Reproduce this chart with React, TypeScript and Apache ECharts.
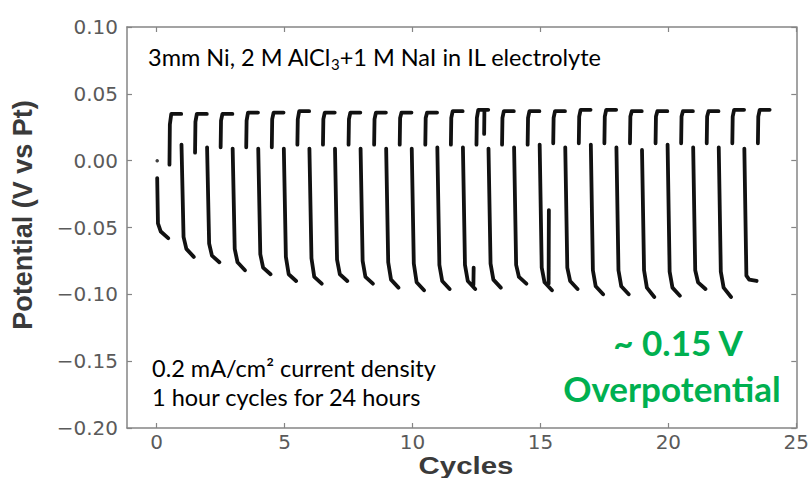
import React, { useEffect, useRef } from "react";
import * as echarts from "echarts";

// Cycle index (each cycle = 1 hour: plating half then stripping half)
const cycleIndex = [0, 1, 2, 3, 4, 5, 6, 7, 8, 9, 10, 11, 12, 13, 14, 15, 16, 17, 18, 19, 20, 21, 22, 23];
// Negative (plating) half-cycle readings, V vs Pt
const negTop = [-0.013, 0.012, 0.010, 0.009, 0.009, 0.009, 0.009, 0.009, 0.009, 0.009, 0.009, 0.010, 0.010, 0.009, 0.010, 0.012, 0.010, 0.012, 0.010, 0.008, 0.012, 0.010, 0.010, 0.009];
const negKnee = [-0.047, -0.057, -0.062, -0.066, -0.070, -0.072, -0.073, -0.074, -0.075, -0.076, -0.077, -0.078, -0.078, -0.077, -0.078, -0.080, -0.080, -0.082, -0.082, -0.082, -0.083, -0.082, -0.083, -0.086];
const negMid = [-0.053, -0.066, -0.071, -0.076, -0.080, -0.085, -0.087, -0.085, -0.087, -0.089, -0.091, -0.090, -0.090, -0.089, -0.087, -0.091, -0.090, -0.094, -0.094, -0.095, -0.095, -0.091, -0.095, -0.089];
const negBottom = [-0.058, -0.072, -0.076, -0.082, -0.085, -0.090, -0.092, -0.090, -0.092, -0.095, -0.097, -0.096, -0.096, -0.095, -0.092, -0.097, -0.096, -0.100, -0.100, -0.102, -0.101, -0.096, -0.102, -0.090];
// Positive (stripping) half-cycle readings
const posStart = [-0.003, 0.006, 0.010, 0.010, 0.010, 0.012, 0.012, 0.012, 0.012, 0.012, 0.012, 0.012, 0.012, 0.012, 0.012, 0.013, 0.013, 0.013, 0.013, 0.013, 0.013, 0.013, 0.013, 0.013];
const posRise = [0.027, 0.029, 0.030, 0.030, 0.031, 0.031, 0.031, 0.031, 0.031, 0.032, 0.032, 0.032, 0.032, 0.032, 0.032, 0.032, 0.033, 0.033, 0.033, 0.033, 0.033, 0.033, 0.033, 0.033];
const posTop = [0.035, 0.035, 0.035, 0.036, 0.036, 0.037, 0.036, 0.036, 0.036, 0.036, 0.036, 0.037, 0.038, 0.037, 0.037, 0.037, 0.038, 0.038, 0.037, 0.037, 0.037, 0.037, 0.038, 0.038];
// Isolated glitches
const spikeX = [12.38, 15.32, 12.8];
const spikeTop = [-0.080, -0.037, 0.037];
const spikeBase = [-0.093, -0.092, 0.020];
// First isolated reading
const startPoint = [[0.02, 0.0]];

const xTicks = [0, 5, 10, 15, 20, 25];

function buildData() {
  const data: any[] = [];
  cycleIndex.forEach((k, i) => {
    const x0 = i === 0 ? k + 0.02 : k - 0.03;
    data.push([x0, negTop[i]]);
    data.push([k + 0.05, negKnee[i]]);
    data.push([k + 0.16, negMid[i]]);
    data.push([k + 0.45, negBottom[i]]);
    data.push([k + 0.47, "-"]);
    data.push([k + 0.5, posStart[i]]);
    data.push([k + 0.515, posRise[i]]);
    data.push([k + 0.57, posTop[i]]);
    data.push([k + 0.96, posTop[i]]);
    data.push([k + 0.965, "-"]);
  });
  spikeX.forEach((x, i) => {
    data.push([x, spikeBase[i]]);
    data.push([x + 0.01, spikeTop[i]]);
    data.push([x + 0.02, "-"]);
  });
  return data;
}

const AXIS_GRAY = "#858585";
const LABEL_GRAY = "#5a5a5a";

export default function App() {
  const ref = useRef<HTMLDivElement>(null);
  useEffect(() => {
    if (!ref.current) return;
    const chart = echarts.init(ref.current, null, { renderer: "svg" });
    const xBase = {
      type: "value",
      min: -1.16,
      max: 25,
      splitLine: { show: false },
      axisLine: { show: true, onZero: false, lineStyle: { color: AXIS_GRAY, width: 1.5 } },
      axisTick: { show: true, inside: true, length: 5, customValues: xTicks, lineStyle: { color: AXIS_GRAY, width: 1.2 } },
    };
    const yBase = {
      type: "value",
      min: -0.2,
      max: 0.1,
      interval: 0.05,
      splitLine: { show: false },
      axisLine: { show: true, onZero: false, lineStyle: { color: AXIS_GRAY, width: 1.5 } },
      axisTick: { show: true, inside: true, length: 5, lineStyle: { color: AXIS_GRAY, width: 1.2 } },
    };
    chart.setOption({
      animation: false,
      backgroundColor: "#ffffff",
      grid: { left: 127, right: 10, top: 27, bottom: 50, show: false },
      xAxis: [
        {
          ...xBase,
          position: "bottom",
          axisLabel: { customValues: xTicks, color: LABEL_GRAY, fontSize: 20, fontFamily: "DejaVu Sans", margin: 4 },
        },
        { ...xBase, position: "top", axisLabel: { show: false } },
      ],
      yAxis: [
        {
          ...yBase,
          position: "left",
          axisLabel: {
            color: LABEL_GRAY,
            fontSize: 20,
            fontFamily: "DejaVu Sans",
            margin: 9,
            formatter: (v: number) => (Math.abs(v) < 1e-9 ? "0.00" : (v < 0 ? "\u2212" : "") + Math.abs(v).toFixed(2)),
          },
        },
        { ...yBase, position: "right", axisLabel: { show: false } },
      ],
      series: [
        {
          type: "line",
          data: buildData(),
          showSymbol: false,
          symbol: "none",
          connectNulls: false,
          lineStyle: { color: "#111111", width: 3.8, join: "round", cap: "round" },
        },
        {
          type: "scatter",
          data: startPoint,
          symbolSize: 3.5,
          itemStyle: { color: "#111111" },
        },
      ],
      graphic: [
        {
          type: "text",
          x: 23,
          y: 215,
          rotation: Math.PI / 2,
          style: {
            text: "Potential (V vs Pt)",
            font: "bold 27px 'Liberation Sans'",
            fill: "#3a3a3a",
            textAlign: "center",
            textVerticalAlign: "middle",
          },
        },
        {
          type: "text",
          x: 466,
          y: 466,
          scaleX: 1.28,
          style: {
            text: "Cycles",
            font: "bold 23px 'Liberation Sans'",
            fill: "#3a3a3a",
            textAlign: "center",
            textVerticalAlign: "middle",
          },
        },
        {
          type: "text",
          x: 148,
          y: 57,
          style: {
            text: "{a|3mm Ni, 2 M AlCl}{s|3}{a|+1 M NaI in IL electrolyte}",
            textVerticalAlign: "middle",
            rich: {
              a: { fontFamily: "Lato", fontSize: 23.5, fill: "#000" },
              s: { fontFamily: "Lato", fontSize: 15, fill: "#000", padding: [14, 0, 0, 0] },
            },
          },
        },
        {
          type: "text",
          x: 152,
          y: 368,
          style: {
            text: "0.2 mA/cm\u00B2 current density",
            font: "23.5px Lato",
            fill: "#000",
            textVerticalAlign: "middle",
          },
        },
        {
          type: "text",
          x: 152,
          y: 397,
          style: {
            text: "1 hour cycles for 24 hours",
            font: "23.5px Lato",
            fill: "#000",
            textVerticalAlign: "middle",
          },
        },
        {
          type: "text",
          x: 678,
          y: 342,
          style: {
            text: "~ 0.15 V",
            font: "bold 35px Lato",
            fill: "#00B050",
            textAlign: "center",
            textVerticalAlign: "middle",
          },
        },
        {
          type: "text",
          x: 672,
          y: 388,
          style: {
            text: "Overpotential",
            font: "bold 35px Lato",
            fill: "#00B050",
            textAlign: "center",
            textVerticalAlign: "middle",
          },
        },
      ],
    });
    return () => chart.dispose();
  }, []);
  return <div ref={ref} style={{ width: 812, height: 478, position: "absolute", left: 0, top: 0 }} />;
}
